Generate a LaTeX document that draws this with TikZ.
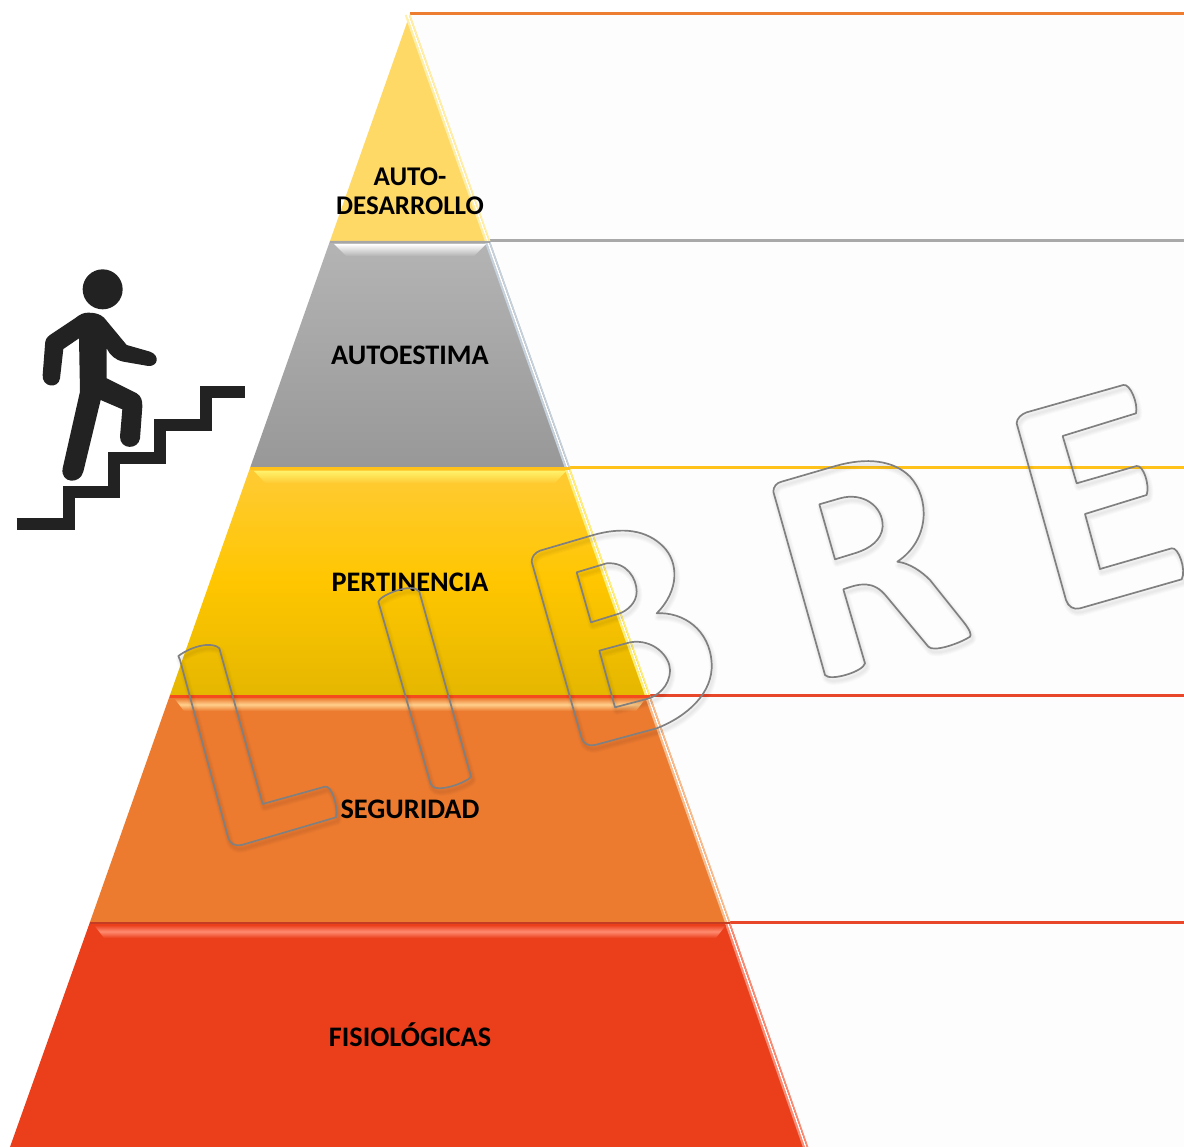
\documentclass[tikz,border=0pt]{standalone}
\usepackage{fontspec}
\setmainfont{Carlito}
\usetikzlibrary{calc}
\definecolor{bandA}{HTML}{FFD966}
\definecolor{bandE}{HTML}{EC7B30}
\definecolor{bandF}{HTML}{EB3F1C}
\definecolor{goldT}{HTML}{FFCB35}
\definecolor{goldM}{HTML}{FFC600}
\definecolor{goldB}{HTML}{E5B700}
\definecolor{grayT}{HTML}{B4B4B4}
\definecolor{grayB}{HTML}{989898}
\definecolor{ruleGold}{HTML}{FFC21A}
\definecolor{ruleGray}{HTML}{A9A9A9}
\definecolor{ruleOrange}{HTML}{ED7D31}
\definecolor{ruleRed}{HTML}{E8472A}
\definecolor{inkK}{HTML}{222222}
\definecolor{panelW}{HTML}{FDFDFD}
\definecolor{glyphG}{HTML}{808080}
\definecolor{lightOrange}{HTML}{FFD08C}
\definecolor{lightRed}{HTML}{FF8C70}
\definecolor{lightYellow}{HTML}{FFF26A}
\definecolor{stripY}{HTML}{FFF07A}
\definecolor{stripA}{HTML}{FFEFA8}
\definecolor{stripG}{HTML}{C6D2DE}
\definecolor{stripO}{HTML}{F8BE90}
\definecolor{stripR}{HTML}{FA8F78}
\tikzset{
  lvl/.style={font=\bfseries\fontsize{28.3}{29}\selectfont,align=center,text=black,inner sep=0pt},
  rule/.style={line width=3pt},
  glyphline/.style={draw=glyphG,line width=1.7pt,line join=round},
  glyphshade/.style={draw=black,draw opacity=0.018,line cap=round,line join=round},
}
\def\glL{(55,228) .. controls (100,195) and (160,185) .. (178,205) -- (308,672) -- (495,620) .. controls (515,615) and (535,680) .. (528,712) -- (245,795) .. controls (225,800) and (210,790) .. (205,775) -- (60,240) .. controls (58,235) and (56,232) .. (55,228) -- cycle}
\def\glI{(655,65) .. controls (660,45) and (760,5) .. (778,35) -- (933,590) .. controls (925,605) and (825,645) .. (812,612) -- cycle}
\def\glB{(155,485) .. controls (155,470) and (165,458) .. (180,452) -- (340,405) .. controls (430,380) and (500,390) .. (550,440) .. controls (595,485) and (600,570) .. (530,640) .. controls (610,635) and (690,690) .. (695,790) .. controls (700,880) and (620,950) .. (530,985) -- (345,1035) .. controls (325,1040) and (310,1030) .. (305,1015) -- cycle
 (290,517) -- (380,490) .. controls (440,485) and (470,535) .. (470,575) .. controls (470,610) and (440,632) .. (420,640) -- (333,667) -- cycle
 (358,752) -- (450,727) .. controls (520,715) and (570,770) .. (570,810) .. controls (570,860) and (530,890) .. (500,897) -- (405,922) -- cycle}
\def\glR{(40,365) .. controls (40,350) and (50,338) .. (65,335) -- (230,287) .. controls (320,262) and (400,270) .. (450,320) .. controls (510,385) and (510,510) .. (412,575) .. controls (450,580) and (485,605) .. (510,630) -- (610,755) .. controls (630,780) and (635,795) .. (630,800) .. controls (600,820) and (520,848) .. (505,830) -- (380,680) .. controls (340,630) and (300,640) .. (250,658) -- (315,880) .. controls (310,905) and (210,935) .. (195,915) -- cycle
 (178,403) -- (240,385) .. controls (310,365) and (370,410) .. (368,470) .. controls (365,510) and (330,535) .. (290,548) -- (225,568) -- cycle}
\def\glE{(770,160) .. controls (770,145) and (785,132) .. (800,127) -- (1090,45) .. controls (1110,40) and (1135,100) .. (1128,130) -- (908,198) -- (950,340) -- (1130,288) .. controls (1150,285) and (1170,345) .. (1160,375) -- (975,432) -- (1020,597) -- (1235,535) .. controls (1255,530) and (1280,600) .. (1265,628) -- (960,715) .. controls (940,720) and (925,710) .. (918,690) -- cycle}
\newcommand{\lettershape}[2]{%
  \begin{scope}[shift={#1},scale=1/3]
    \begin{scope}[shift={(5,11)}]
      \foreach \wdt in {8,6,4,2} {\draw[glyphshade,line width=\wdt pt] #2;}
    \end{scope}
    \draw[glyphline] #2;
  \end{scope}}
% #1 top right, #2 bottom right, #3 strip colour
\newcommand{\edgebevel}[3]{%
  \draw[#3,line width=2pt] ($#1+(-4.2,1)$) -- ($#2+(-4.2,0)$);
  \draw[white,line width=1.5pt] ($#1+(-2.2,1)$) -- ($#2+(-2.2,0)$);
  \draw[#3,line width=1.4pt] ($#1+(-0.4,1)$) -- ($#2+(-0.4,0)$);}
\begin{document}
\begin{tikzpicture}[x=1pt,y=-1pt]
\useasboundingbox (0,0) rectangle (1184,1147);
\fill[white] (0,0) rectangle (1184,1147);
% right hand panels
\fill[panelW] (410,14) rectangle (1184,1147);
\draw[rule,draw=ruleOrange] (410,14) -- (1184,14);
\draw[rule,draw=ruleGray] (490,241) -- (1184,241);
\draw[rule,draw=ruleGold] (570,468) -- (1184,468);
\draw[rule,draw=ruleRed] (650,695) -- (1184,695);
\draw[rule,draw=ruleRed] (730,922) -- (1184,922);
% pyramid bands
\fill[bandA] (410,14) -- (490,241) -- (330,241) -- cycle;
\shade[top color=grayT,bottom color=grayB] (330,241) -- (490,241) -- (570,468) -- (250,468) -- cycle;
\shade[top color=goldT,bottom color=goldB,middle color=goldM] (250,468) -- (570,468) -- (650,695) -- (170,695) -- cycle;
\fill[bandE] (170,695) -- (650,695) -- (730,922) -- (90,922) -- cycle;
\fill[bandF] (90,922) -- (730,922) -- (808,1147) -- (10,1147) -- cycle;
% right hand bevels
\edgebevel{(410,14)}{(490,241)}{stripA}
\edgebevel{(490,241)}{(570,468)}{stripG}
\edgebevel{(570,468)}{(650,695)}{stripY}
\edgebevel{(650,695)}{(730,922)}{stripO}
\edgebevel{(730,922)}{(808,1147)}{stripR}
% top bevels
\shade[top color=white,bottom color=grayT] (334,244) -- (486,244) -- (474,256) -- (346,256) -- cycle;
\shade[top color=lightYellow,bottom color=goldT] (254,471) -- (566,471) -- (555,483) -- (265,483) -- cycle;
\shade[top color=bandE,bottom color=bandE,middle color=lightOrange] (174,698) -- (646,698) -- (636,711) -- (184,711) -- cycle;
\shade[top color=bandF,bottom color=bandF,middle color=lightRed] (94,925) -- (726,925) -- (716,938) -- (104,938) -- cycle;
\draw[black!35,line width=1.5pt] (330,242) -- (490,242);
\draw[ruleGold,line width=3pt] (250,469) -- (570,469);
\draw[bandE!60!red,line width=3pt] (170,696) -- (650,696);
\draw[ruleRed!85!black,line width=2.5pt] (90,923) -- (730,923);
% labels
\node[lvl,font=\bfseries\fontsize{27}{29}\selectfont] (nauto) at (410,191.5) {AUTO-\\DESARROLLO};
\node[lvl] (nesti) at (410,355) {AUTOESTIMA};
\node[lvl] (nperti) at (410,582) {PERTINENCIA};
\node[lvl] (nsegu) at (410,809) {SEGURIDAD};
\node[lvl] (nfisio) at (410,1035) {FISIOLÓGICAS};
% climbing figure
\begin{scope}[shift={(0,250)},scale=1/3]
  \fill[inkK] (308,118) circle (60);
  \fill[inkK] (265,188) .. controls (285,188) and (300,192) .. (312,203) -- (380,285) -- (450,305) .. controls (480,315) and (475,350) .. (445,348) -- (370,335) .. controls (345,330) and (330,315) .. (320,295) -- (320,385) -- (410,430) .. controls (422,437) and (428,450) .. (427,470) -- (420,565) .. controls (415,600) and (360,600) .. (360,560) -- (367,478) -- (302,450) -- (250,665) .. controls (240,705) and (180,700) .. (188,655) -- (240,425) -- (237,265) -- (190,297) -- (180,385) .. controls (175,418) and (125,412) .. (128,375) -- (135,285) .. controls (135,270) and (140,262) .. (150,255) -- (225,205) .. controls (240,193) and (250,188) .. (265,188) -- cycle;
  \draw[inkK,line width=12.3pt,miter limit=4,line join=miter] (50,822) -- (207,822) -- (207,725) -- (343,725) -- (343,625) -- (480,625) -- (480,525) -- (618,525) -- (618,425) -- (736,425);
\end{scope}
% watermark letters
\lettershape{(160,580)}{\glL}
\lettershape{(160,580)}{\glI}
\lettershape{(480,400)}{\glB}
\lettershape{(760,370)}{\glR}
\lettershape{(760,370)}{\glE}
\end{tikzpicture}
\end{document}
